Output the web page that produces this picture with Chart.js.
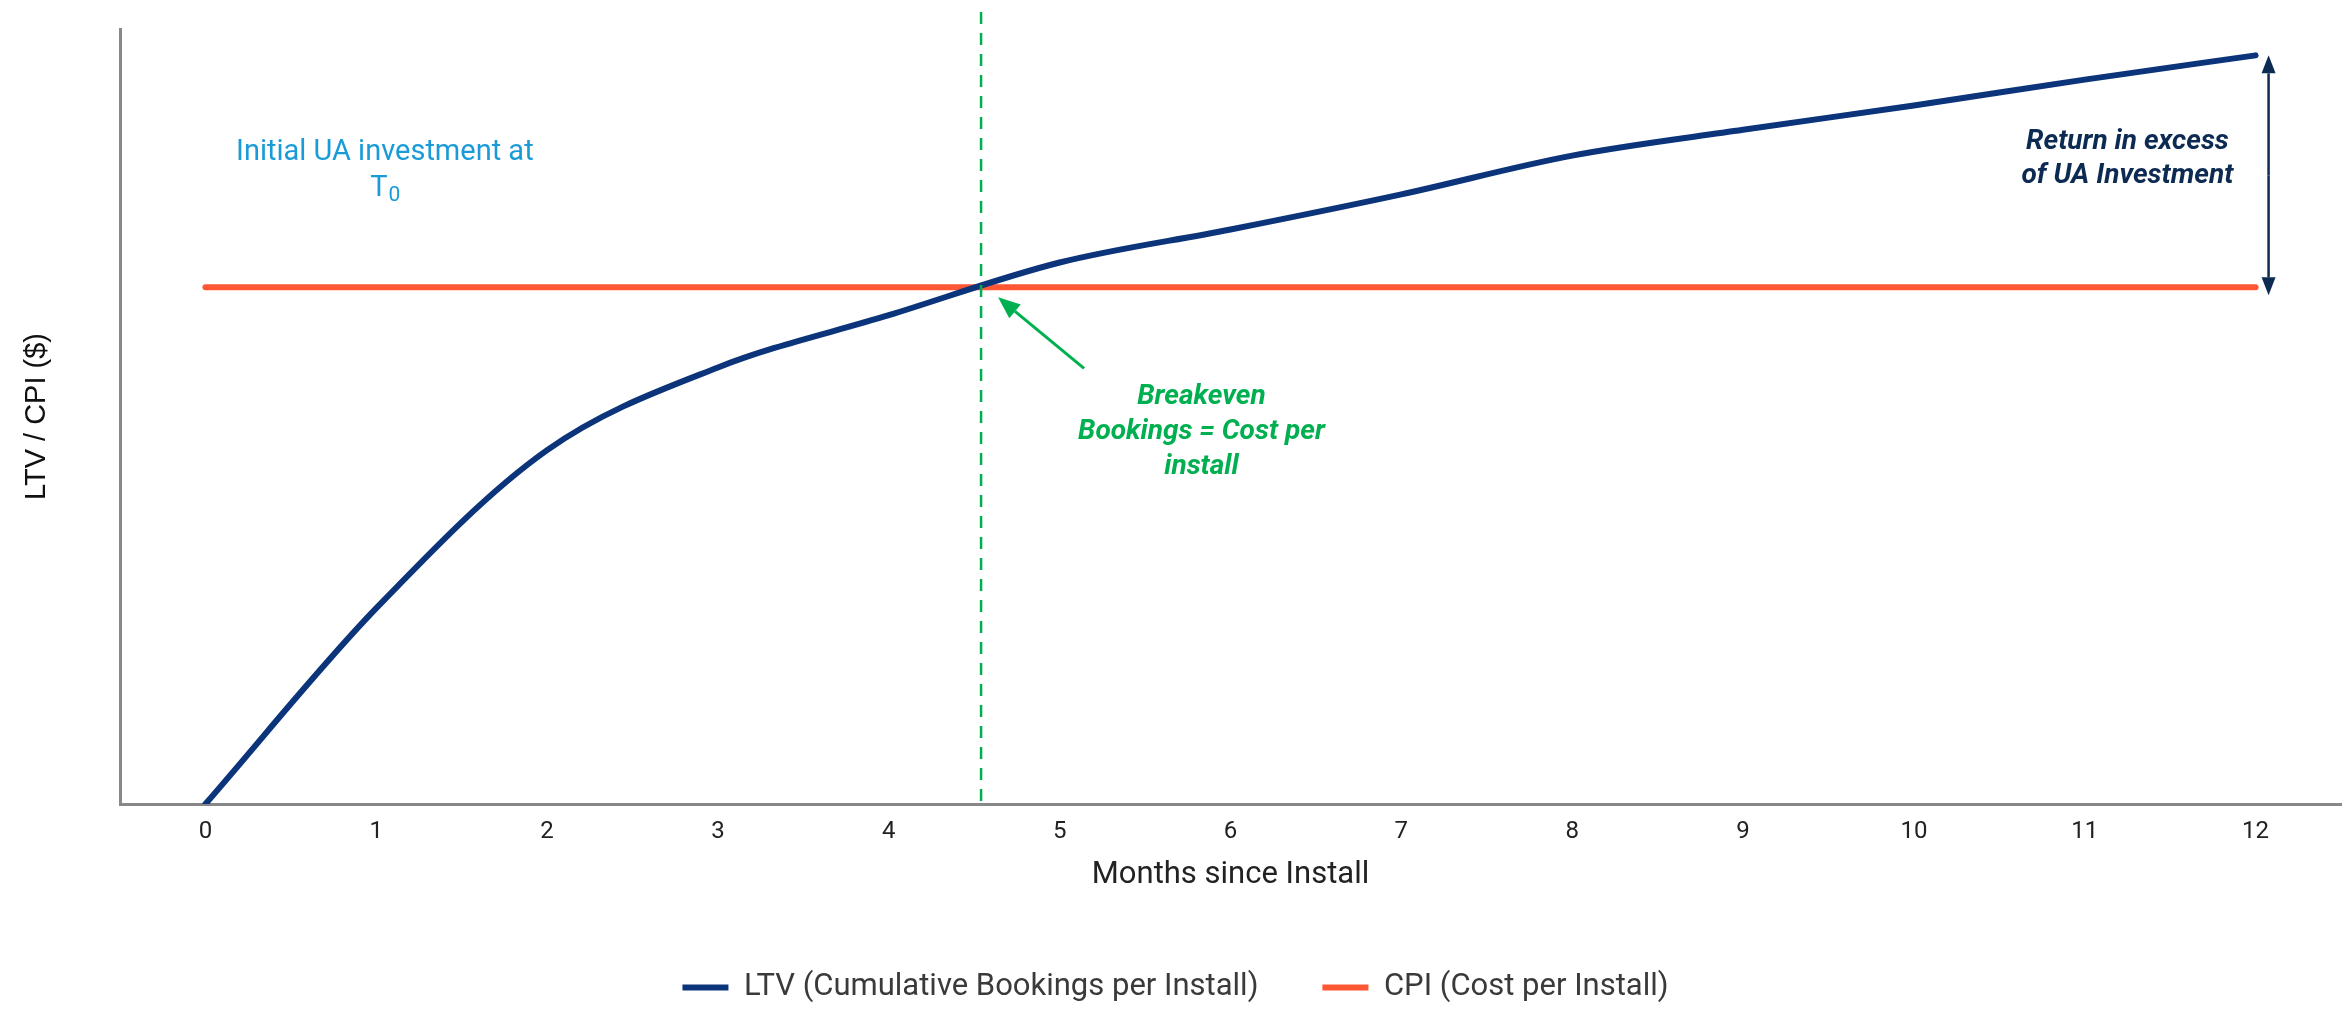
<!DOCTYPE html>
<html>
<head>
<meta charset="utf-8">
<title>LTV vs CPI</title>
<script src="https://cdn.jsdelivr.net/npm/chart.js@4.4.1/dist/chart.umd.min.js"></script>
<style>
  html, body { margin: 0; padding: 0; background: #ffffff; }
  #wrap { width: 2346px; height: 1009px; }
</style>
</head>
<body>
<div id="wrap">
  <canvas id="myChart" width="2346" height="1009"></canvas>
</div>
<script>
// Months since install (x axis ticks)
const months = [0, 1, 2, 3, 4, 5, 6, 7, 8, 9, 10, 11, 12];
// LTV - cumulative bookings per install (arbitrary $ units)
const ltvValues = [0, 3.79, 6.85, 8.45, 9.46, 10.48, 11.12, 11.8, 12.55, 13.05, 13.52, 14.02, 14.49];
// CPI - flat cost per install
const cpiValues = [10, 10, 10, 10, 10, 10, 10, 10, 10, 10, 10, 10, 10];
// month where LTV crosses CPI
const breakevenMonth = 4.54;

const seriesLabels = ["LTV (Cumulative Bookings per Install)", "CPI (Cost per Install)"];
const seriesColors = ["#0b347a", "#ff5733"];

const FONT = "Roboto, 'Noto Sans', sans-serif";

// Draws the breakeven marker, the arrows and the text callouts
const annotationsPlugin = {
  id: "annotations",
  afterDatasetsDraw(chart) {
    const { ctx, chartArea, scales } = chart;
    const xs = scales.x;
    const ys = scales.y;

    ctx.save();

    // dashed breakeven line
    const bx = xs.getPixelForValue(breakevenMonth);
    const by = ys.getPixelForValue(cpiValues[0]);
    ctx.strokeStyle = "#00b050";
    ctx.lineWidth = 2.5;
    ctx.setLineDash([12, 9]);
    ctx.beginPath();
    ctx.moveTo(bx, 12);
    ctx.lineTo(bx, chartArea.bottom);
    ctx.stroke();
    ctx.setLineDash([]);

    // green arrow pointing at the crossing
    drawArrow(ctx, bx + 103, by + 81, bx + 17, by + 10, "#00b050", 3, 22, 9);

    // navy double arrow between CPI and final LTV
    const ax = xs.getPixelForValue(months[months.length - 1]) + 13;
    const topY = ys.getPixelForValue(ltvValues[ltvValues.length - 1]);
    const botY = ys.getPixelForValue(cpiValues[cpiValues.length - 1]) + 8;
    drawArrow(ctx, ax, (topY + botY) / 2, ax, topY, "#0d2b52", 2.5, 18, 7);
    drawArrow(ctx, ax, (topY + botY) / 2, ax, botY, "#0d2b52", 2.5, 18, 7);

    ctx.textAlign = "center";
    ctx.textBaseline = "middle";

    // Initial UA investment at T0
    const ix = xs.getPixelForValue(1.05);
    const iy = ys.getPixelForValue(12.6);
    ctx.fillStyle = "#1a9bd7";
    ctx.font = "400 29px " + FONT;
    ctx.fillText("Initial UA investment at", ix, iy);
    const tW = ctx.measureText("T").width;
    ctx.font = "400 21px " + FONT;
    const zW = ctx.measureText("0").width;
    const startX = ix - (tW + zW) / 2;
    ctx.textAlign = "left";
    ctx.font = "400 29px " + FONT;
    ctx.fillText("T", startX, iy + 36);
    ctx.font = "400 21px " + FONT;
    ctx.fillText("0", startX + tW + 1, iy + 43);

    // Breakeven callout
    ctx.textAlign = "center";
    ctx.fillStyle = "#00b050";
    ctx.font = "italic 700 28px " + FONT;
    const kx = xs.getPixelForValue(5.83);
    const ky = ys.getPixelForValue(7.87);
    ["Breakeven", "Bookings = Cost per", "install"].forEach((line, i) => {
      ctx.fillText(line, kx, ky + i * 35);
    });

    // Return callout
    ctx.fillStyle = "#0d2b52";
    const rx = xs.getPixelForValue(11.25);
    const ry = ys.getPixelForValue(12.82);
    ["Return in excess", "of UA Investment"].forEach((line, i) => {
      ctx.fillText(line, rx, ry + i * 34);
    });

    ctx.restore();
  },
};

function drawArrow(ctx, x1, y1, x2, y2, color, width, headLen, headHalf) {
  const ang = Math.atan2(y2 - y1, x2 - x1);
  const baseX = x2 - headLen * Math.cos(ang);
  const baseY = y2 - headLen * Math.sin(ang);
  ctx.strokeStyle = color;
  ctx.fillStyle = color;
  ctx.lineWidth = width;
  ctx.beginPath();
  ctx.moveTo(x1, y1);
  ctx.lineTo(baseX, baseY);
  ctx.stroke();
  ctx.beginPath();
  ctx.moveTo(x2, y2);
  ctx.lineTo(baseX + headHalf * Math.sin(ang), baseY - headHalf * Math.cos(ang));
  ctx.lineTo(baseX - headHalf * Math.sin(ang), baseY + headHalf * Math.cos(ang));
  ctx.closePath();
  ctx.fill();
}

function buildChart() {
  const ctx = document.getElementById("myChart").getContext("2d");
  new Chart(ctx, {
    type: "line",
    data: {
      datasets: [
        {
          label: seriesLabels[0],
          data: months.map((m, i) => ({ x: m, y: ltvValues[i] })),
          borderColor: seriesColors[0],
          backgroundColor: seriesColors[0],
          borderWidth: 6,
          borderCapStyle: "round",
          cubicInterpolationMode: "monotone",
          pointRadius: 0,
          fill: false,
        },
        {
          label: seriesLabels[1],
          data: months.map((m, i) => ({ x: m, y: cpiValues[i] })),
          borderColor: seriesColors[1],
          backgroundColor: seriesColors[1],
          borderWidth: 6,
          borderCapStyle: "round",
          pointRadius: 0,
          fill: false,
        },
      ],
    },
    options: {
      responsive: false,
      animation: false,
      devicePixelRatio: 1,
      // small negative bottom padding pushes the legend a bit lower, like the original
      layout: { padding: { top: 29, right: 5, left: 10, bottom: -4 } },
      plugins: {
        tooltip: { enabled: false },
        legend: {
          position: "bottom",
          labels: {
            color: "#3a3a3a",
            font: { family: FONT, size: 31, weight: "400" },
            boxWidth: 46,
            boxHeight: 6,
            padding: 64,
            generateLabels(chart) {
              return chart.data.datasets.map((ds, i) => ({
                text: ds.label,
                fillStyle: ds.borderColor,
                strokeStyle: ds.borderColor,
                lineWidth: 0,
                hidden: false,
                datasetIndex: i,
                fontColor: "#3a3a3a",
              }));
            },
          },
        },
      },
      scales: {
        x: {
          type: "linear",
          min: -0.5,
          max: 12.5,
          afterBuildTicks(scale) {
            scale.ticks = months.map((v) => ({ value: v }));
          },
          afterFit(scale) {
            scale.height = 104;
          },
          grid: { display: false, drawTicks: false },
          border: { display: true, color: "#888888", width: 3 },
          ticks: {
            color: "#222222",
            padding: 14,
            font: { family: FONT, size: 24 },
          },
          title: {
            display: true,
            text: "Months since Install",
            color: "#222222",
            font: { family: FONT, size: 31 },
            padding: { top: 0, bottom: 14 },
          },
        },
        y: {
          min: 0,
          max: 15,
          afterFit(scale) {
            scale.width = 110;
          },
          grid: { display: false, drawTicks: false },
          border: { display: true, color: "#888888", width: 3 },
          ticks: { display: false },
          title: {
            display: true,
            text: "LTV / CPI ($)",
            color: "#111111",
            font: { family: "'Liberation Sans', Arial, sans-serif", size: 29 },
            padding: { top: 10, bottom: 0 },
          },
        },
      },
    },
    plugins: [annotationsPlugin],
  });
}

// make sure the local Roboto faces are ready before drawing text on canvas
Promise.all([
  document.fonts.load("400 29px Roboto"),
  document.fonts.load("400 31px Roboto"),
  document.fonts.load("italic 700 28px Roboto"),
  document.fonts.load("29px 'Liberation Sans'"),
]).then(buildChart, buildChart);
</script>
</body>
</html>
